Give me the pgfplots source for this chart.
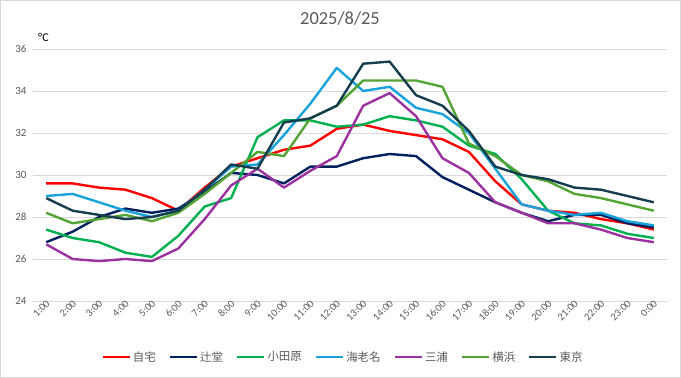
\documentclass[border=0pt]{standalone}
\usepackage{pgfplots}
\usepackage{pgfplotstable}
\pgfplotsset{compat=1.18}
\usepackage{fontspec}
\setmainfont{Carlito}
\newfontfamily\jp{Noto Sans CJK JP}
\definecolor{cRed}{HTML}{FF0000}
\definecolor{cNavy}{HTML}{002060}
\definecolor{cGreen}{HTML}{00B050}
\definecolor{cBlue}{HTML}{19A3DB}
\definecolor{cPurple}{HTML}{9C32A0}
\definecolor{cOlive}{HTML}{52A534}
\definecolor{cTeal}{HTML}{173E4E}
\definecolor{tickgray}{HTML}{595959}
\definecolor{gridgray}{HTML}{D9D9D9}
\pgfplotstableread{
h red navy green blue purple olive teal
0 29.6 26.8 27.4 29.0 26.7 28.2 28.9
1 29.6 27.3 27.0 29.1 26.0 27.7 28.3
2 29.4 28.0 26.8 28.7 25.9 27.9 28.1
3 29.3 28.4 26.3 28.3 26.0 28.1 27.9
4 28.9 28.2 26.1 28.0 25.9 27.8 28.0
5 28.3 28.4 27.1 28.3 26.5 28.2 28.3
6 29.4 29.2 28.5 29.3 27.9 29.1 29.3
7 30.4 30.1 28.9 30.4 29.5 30.1 30.5
8 30.8 30.0 31.8 30.5 30.3 31.1 30.3
9 31.2 29.6 32.6 31.9 29.4 30.9 32.5
10 31.4 30.4 32.6 33.4 30.2 32.7 32.7
11 32.2 30.4 32.3 35.1 30.9 33.3 33.3
12 32.4 30.8 32.4 34.0 33.3 34.5 35.3
13 32.1 31.0 32.8 34.2 33.9 34.5 35.4
14 31.9 30.9 32.6 33.2 32.8 34.5 33.8
15 31.7 29.9 32.3 32.9 30.8 34.2 33.3
16 31.1 29.3 31.4 32.0 30.1 31.5 32.1
17 29.7 28.7 31.0 30.3 28.7 30.9 30.4
18 28.6 28.2 29.8 28.6 28.2 30.0 30.0
19 28.3 27.8 28.3 28.3 27.7 29.7 29.8
20 28.2 28.1 27.7 28.1 27.7 29.1 29.4
21 27.9 28.1 27.6 28.2 27.4 28.9 29.3
22 27.7 27.7 27.2 27.8 27.0 28.6 29.0
23 27.4 27.5 27.0 27.6 26.8 28.3 28.7
}\data
\begin{document}
\begin{tikzpicture}
\useasboundingbox (-33bp,-77bp) rectangle (648bp,301bp);
\draw[color=gridgray, line width=0.8bp] (-32.6bp,-76.6bp) rectangle (647.6bp,300.6bp);
\begin{axis}[
  name=ax,
  at={(0,0)}, anchor=south west,
  scale only axis, width=634bp, height=252bp,
  xmin=-0.5, xmax=23.5, ymin=24, ymax=36,
  ytick={24,26,...,36},
  xtick={0,...,23},
  xticklabels={1:00,2:00,3:00,4:00,5:00,6:00,7:00,8:00,9:00,10:00,11:00,12:00,13:00,14:00,15:00,16:00,17:00,18:00,19:00,20:00,21:00,22:00,23:00,0:00},
  axis line style={draw=none},
  major tick length=0pt,
  ymajorgrids,
  grid style={color=gridgray, line width=0.8bp},
  tick label style={font=\fontsize{11}{13}\selectfont, text=tickgray},
  /pgf/number format/assume math mode=true,
  yticklabel style={xshift=-3bp},
  xticklabel style={rotate=45, anchor=east, xshift=4bp, yshift=-2bp, font=\fontsize{10.5}{12}\selectfont},
  legend style={at={(0.489,-0.222)}, anchor=center, draw=none, fill=none,
    legend columns=-1, font=\jp\fontsize{11.5}{13}\selectfont, text=tickgray,
    /tikz/every even column/.append style={column sep=11bp},
    inner sep=0pt},
  legend image code/.code={\draw[#1, line width=2.4bp] (0bp,0bp) -- (27bp,0bp);},
  every axis plot/.append style={line width=2.4bp, line join=round, mark=none},
]
\addplot[cRed] table[x=h,y=red] {\data};
\addplot[cNavy] table[x=h,y=navy] {\data};
\addplot[cGreen] table[x=h,y=green] {\data};
\addplot[cBlue] table[x=h,y=blue] {\data};
\addplot[cPurple] table[x=h,y=purple] {\data};
\addplot[cOlive] table[x=h,y=olive] {\data};
\addplot[cTeal] table[x=h,y=teal] {\data};
\legend{自宅,辻堂,小田原,海老名,三浦,横浜,東京}
\end{axis}
\node[anchor=base, font=\fontsize{18.5}{20}\selectfont, text=tickgray] at (307bp,276bp) {2025/8/25};
\node[anchor=base west, font=\fontsize{12}{14}\selectfont, text=black, inner sep=0pt] at (5bp,259bp) {°C};
\end{tikzpicture}
\end{document}
